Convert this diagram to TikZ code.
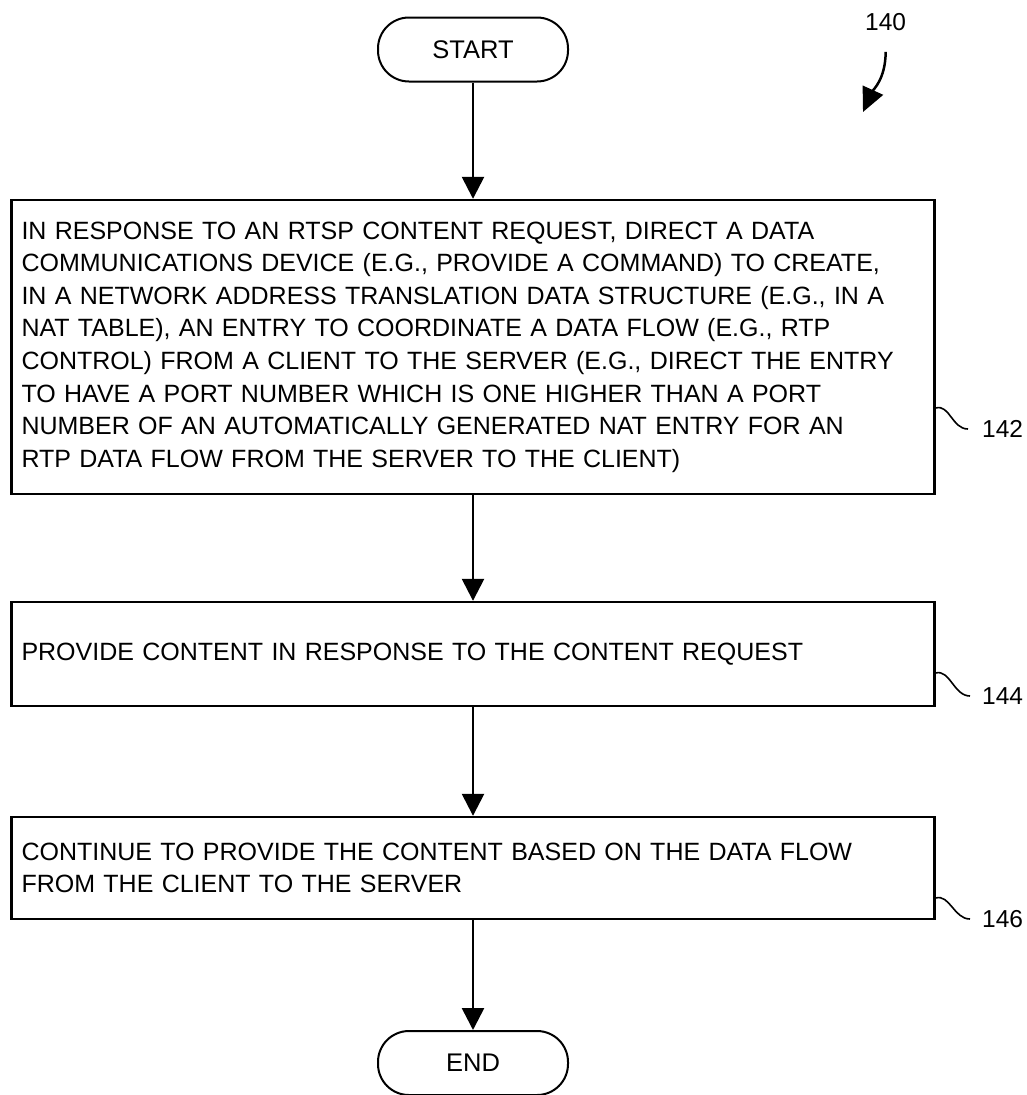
\documentclass[tikz,border=0pt]{standalone}
\usepackage{fontspec}
\setmainfont{Liberation Sans}
\usetikzlibrary{
  arrows.meta,
  positioning,
}
\tikzstyle{terminal} = [
  draw,
  line width=2pt,
  rounded corners=31pt,
  minimum width=190pt,
  minimum height=64pt,
  font=\fontsize{25.5}{28}\selectfont,
]
\tikzstyle{stepbox} = [
  draw,
  line width=2.4pt,
  minimum width=923pt,
  text width=903pt,
  inner xsep=10pt,
  align=left,
  font=\fontsize{25}{32.6}\selectfont,
]
\tikzstyle{flow} = [
  -{Triangle[length=22pt,width=22pt]},
  line width=2.6pt,
]
\tikzstyle{refnum} = [
  inner sep=0pt,
  anchor=west,
  font=\fontsize{24.5}{28}\selectfont,
]
\tikzstyle{lead} = [
  line width=1.6pt,
]

\begin{document}
\begin{tikzpicture}[x=1pt, y=-1pt]

        \useasboundingbox (0,0) rectangle (1027,1095);

        \node [terminal] (start) at (473, 49.5) {START};

        \node [stepbox, minimum height=294pt] (stepa) at (473, 347)
              {IN RESPONSE TO AN RTSP CONTENT REQUEST, DIRECT A DATA\\
               COMMUNICATIONS DEVICE (E.G., PROVIDE A COMMAND) TO CREATE,\\
               IN A NETWORK ADDRESS TRANSLATION DATA STRUCTURE (E.G., IN A\\
               NAT TABLE), AN ENTRY TO COORDINATE A DATA FLOW (E.G., RTP\\
               CONTROL) FROM A CLIENT TO THE SERVER (E.G., DIRECT THE ENTRY\\
               TO HAVE A PORT NUMBER WHICH IS ONE HIGHER THAN A PORT\\
               NUMBER OF AN AUTOMATICALLY GENERATED NAT ENTRY FOR AN\\
               RTP DATA FLOW FROM THE SERVER TO THE CLIENT)};

        \node [stepbox, minimum height=104pt] (stepb) at (473, 654)
              {PROVIDE CONTENT IN RESPONSE TO THE CONTENT REQUEST};

        \node [stepbox, minimum height=102pt] (stepc) at (473, 868)
              {CONTINUE TO PROVIDE THE CONTENT BASED ON THE DATA FLOW\\
               FROM THE CLIENT TO THE SERVER};

        \node [terminal] (end) at (473, 1063) {END};

        \draw [flow] (start) -- (stepa);
        \draw [flow] (stepa) -- (stepb);
        \draw [flow] (stepb) -- (stepc);
        \draw [flow] (stepc) -- (end);

        \node [refnum] (n140) at (865, 22) {140};
        \node [refnum] (n142) at (982, 429) {142};
        \node [refnum] (n144) at (982, 696) {144};
        \node [refnum] (n146) at (982, 919) {146};

        \coordinate (figtip) at (863, 112);
        \draw [line width=2.5pt, -{Triangle[length=24pt,width=22pt]}]
              ([yshift=-21pt]n140.south) .. controls +(0,27) and +(10,-22) .. (figtip);

        \draw [lead] ([yshift=-61pt]stepa.east)
              .. controls +(14,-4) and +(-16,0) .. ([xshift=-14pt]n142.west);
        \draw [lead] ([yshift=-19pt]stepb.east)
              .. controls +(14,-4) and +(-16,0) .. ([xshift=-12pt]n144.west);
        \draw [lead] ([yshift=-30pt]stepc.east)
              .. controls +(14,-4) and +(-16,0) .. ([xshift=-12pt]n146.west);
      \end{tikzpicture}
\end{document}
